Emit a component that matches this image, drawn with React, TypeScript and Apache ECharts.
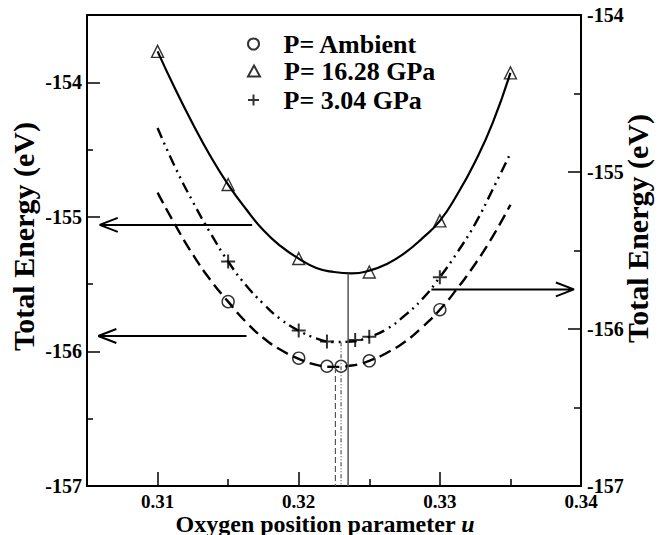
import React, { useEffect, useRef } from "react";
import * as echarts from "echarts";

const FONT = '"Liberation Serif", "Times New Roman", serif';

// axis ticks
const uTicks = [0.31, 0.32, 0.33, 0.34];
const uMinor = [0.315, 0.325, 0.335];
const leftTicks = [-157, -156, -155, -154];
const leftMinor = [-156.5, -155.5, -154.5];
const rightTicks = [-157, -156, -155, -154];
const rightMinor = [-156.5, -155.5, -154.5];

// data points
const uAmbient = [0.315, 0.32, 0.322, 0.323, 0.325, 0.33];
const eAmbient = [-155.63, -156.05, -156.11, -156.11, -156.07, -155.69];
const u1628 = [0.31, 0.315, 0.32, 0.325, 0.33, 0.335];
const e1628 = [-153.77, -154.76, -155.31, -155.41, -155.03, -153.93];
const u304 = [0.315, 0.32, 0.322, 0.324, 0.325, 0.33];
const e304 = [-155.57, -156.01, -156.08, -156.07, -156.05, -155.67];

// fitted curves
const uFit = [
  0.31, 0.31125, 0.3125, 0.31375, 0.315, 0.31625, 0.3175, 0.31875, 0.32, 0.32125, 0.3225,
  0.32375, 0.325, 0.32625, 0.3275, 0.32875, 0.33, 0.33125, 0.3325, 0.33375, 0.335,
];
const fit1628 = [
  -153.77, -154.05, -154.31, -154.55, -154.76, -154.94, -155.1, -155.22, -155.31, -155.38, -155.41,
  -155.42, -155.4, -155.35, -155.27, -155.16, -155.03, -154.83, -154.59, -154.3, -153.93,
];
const fitAmbient = [
  -154.82, -155.06, -155.28, -155.47, -155.63, -155.78, -155.9, -155.99, -156.055, -156.1, -156.115,
  -156.105, -156.07, -156.01, -155.93, -155.82, -155.69, -155.53, -155.35, -155.145, -154.91,
];
const fit304 = [
  -154.72, -154.97, -155.19, -155.39, -155.57, -155.72, -155.84, -155.94, -156.01, -156.06, -156.083,
  -156.08, -156.05, -156.0, -155.915, -155.81, -155.67, -155.51, -155.33, -155.11, -154.88,
];

// minima (vertical guide lines)
const minU = [0.3226, 0.3235, 0.323];
const minE = [-156.115, -155.42, -156.085];
const axisBottom = -157;

// arrows
const arrowTipU = [0.3059, 0.3058, 0.3395];
const arrowTailU = [0.3167, 0.3163, 0.3294];
const arrowE = [-155.06, -155.885, -155.748];
const arrowAxis = [0, 0, 1];
const headU = 0.00128;
const headE = [0.052, 0.052, 0.0445];

const zip = (a: number[], b: number[]) => a.map((x, i) => [x, b[i]]);

const tickFont = { fontFamily: FONT, fontWeight: "bold" as const, fontSize: 20, color: "#000" };
const nameFont = { fontFamily: FONT, fontWeight: "bold" as const, fontSize: 30, color: "#000" };

function buildOption() {
  const arrowSeries = arrowTipU.map((tip, i) => {
    const dir = arrowTailU[i] > tip ? 1 : -1;
    const e = arrowE[i];
    return {
      type: "line",
      yAxisIndex: arrowAxis[i],
      symbol: "none",
      silent: true,
      lineStyle: { color: "#000", width: 2 },
      data: [
        [arrowTailU[i], e],
        [tip, e],
        [tip + dir * headU, e + headE[i]],
        [tip, e],
        [tip + dir * headU, e - headE[i]],
      ],
    };
  });

  const vStyles = [
    { color: "#555", width: 1.2, type: [6, 3] },
    { color: "#555", width: 1.5, type: "solid" },
    { color: "#555", width: 1.2, type: [4, 2, 1, 2, 1, 2] },
  ];
  const vAxis = [0, 0, 1];
  const vSeries = minU.map((u, i) => ({
    type: "line",
    yAxisIndex: vAxis[i],
    symbol: "none",
    silent: true,
    lineStyle: vStyles[i],
    data: [
      [u, minE[i]],
      [u, axisBottom],
    ],
  }));

  const legendBase = {
    orient: "vertical",
    left: 242,
    padding: 5,
    itemWidth: 12,
    itemHeight: 11,
    selectedMode: false,
    textStyle: {
      fontFamily: FONT,
      fontWeight: "bold",
      fontSize: 26,
      color: "#000",
      padding: [0, 0, 0, 19],
    },
  };

  return {
    animation: false,
    backgroundColor: "#fff",
    grid: {
      left: 87,
      right: 86,
      top: 15,
      bottom: 49,
      outerBoundsMode: "none",
      containLabel: false,
      show: true,
      borderColor: "#000",
      borderWidth: 2,
      backgroundColor: "transparent",
    },
    legend: [
      { ...legendBase, top: 26, data: ["P= Ambient"] },
      { ...legendBase, top: 53, data: ["P= 16.28 GPa"] },
      { ...legendBase, top: 82, data: ["P= 3.04 GPa"] },
    ],
    xAxis: [
      {
        type: "value",
        min: 0.305,
        max: 0.34,
        position: "bottom",
        axisLine: { show: false },
        splitLine: { show: false },
        axisTick: { show: true, inside: true, length: 14, customValues: uTicks, lineStyle: { color: "#000", width: 1.5 } },
        axisLabel: {
          ...tickFont,
          fontSize: 19,
          lineHeight: 15,
          customValues: uTicks,
          margin: 8,
          formatter: (v: number) => v.toFixed(2),
        },
        name: "Oxygen position parameter {i|u}",
        nameLocation: "middle",
        nameGap: 26,
        nameMoveOverlap: false,
        nameTextStyle: {
          ...nameFont,
          fontSize: 24,
          lineHeight: 23,
          padding: [0, 18, 0, 0],
          rich: {
            i: { fontFamily: FONT, fontWeight: "bold", fontStyle: "italic", fontSize: 24, lineHeight: 23, color: "#000" },
          },
        },
      },
      {
        type: "value",
        min: 0.305,
        max: 0.34,
        position: "bottom",
        axisLine: { show: false },
        splitLine: { show: false },
        axisTick: { show: true, inside: true, length: 7, customValues: uMinor, lineStyle: { color: "#000", width: 1.5 } },
        axisLabel: { show: false },
      },
    ],
    yAxis: [
      {
        type: "value",
        min: -157,
        max: -153.5,
        position: "left",
        axisLine: { show: false },
        splitLine: { show: false },
        axisTick: { show: true, inside: true, length: 13, customValues: leftTicks, lineStyle: { color: "#000", width: 1.5 } },
        axisLabel: { ...tickFont, customValues: leftTicks, margin: 5 },
        name: "Total Energy (eV)",
        nameLocation: "middle",
        nameRotate: 90,
        nameGap: 49,
        nameMoveOverlap: false,
        nameTextStyle: { ...nameFont, padding: [0, 0, 0, 28] },
      },
      {
        type: "value",
        min: -157,
        max: -154,
        position: "right",
        axisLine: { show: false },
        splitLine: { show: false },
        axisTick: { show: true, inside: true, length: 13, customValues: rightTicks, lineStyle: { color: "#000", width: 1.5 } },
        axisLabel: { ...tickFont, customValues: rightTicks, margin: 6 },
        name: "Total Energy (eV)",
        nameLocation: "middle",
        nameRotate: 90,
        nameGap: 41,
        nameMoveOverlap: false,
        nameTextStyle: { ...nameFont, padding: [0, 0, 0, 44] },
      },
      {
        type: "value",
        min: -157,
        max: -153.5,
        position: "left",
        axisLine: { show: false },
        splitLine: { show: false },
        axisTick: { show: true, inside: true, length: 6, customValues: leftMinor, lineStyle: { color: "#000", width: 1.5 } },
        axisLabel: { show: false },
      },
      {
        type: "value",
        min: -157,
        max: -154,
        position: "right",
        axisLine: { show: false },
        splitLine: { show: false },
        axisTick: { show: true, inside: true, length: 7, customValues: rightMinor, lineStyle: { color: "#000", width: 1.5 } },
        axisLabel: { show: false },
      },
    ],
    series: [
      {
        type: "line",
        yAxisIndex: 0,
        smooth: true,
        symbol: "none",
        silent: true,
        lineStyle: { color: "#000", width: 2.2, type: "solid" },
        data: zip(uFit, fit1628),
      },
      {
        type: "line",
        yAxisIndex: 0,
        smooth: true,
        symbol: "none",
        silent: true,
        lineStyle: { color: "#000", width: 2.4, type: [12, 6] },
        data: zip(uFit, fitAmbient),
      },
      {
        type: "line",
        yAxisIndex: 1,
        smooth: true,
        symbol: "none",
        silent: true,
        lineStyle: { color: "#000", width: 2.4, type: [11, 5, 2, 5, 2, 5] },
        data: zip(uFit, fit304),
      },
      ...vSeries,
      ...arrowSeries,
      {
        name: "P= Ambient",
        type: "scatter",
        yAxisIndex: 0,
        symbol: "circle",
        symbolSize: 12,
        itemStyle: { color: "transparent", borderColor: "#000", borderWidth: 1.4 },
        data: zip(uAmbient, eAmbient),
      },
      {
        name: "P= 16.28 GPa",
        type: "scatter",
        yAxisIndex: 0,
        symbol: "triangle",
        symbolSize: 12,
        itemStyle: { color: "transparent", borderColor: "#000", borderWidth: 1.4 },
        data: zip(u1628, e1628),
      },
      {
        name: "P= 3.04 GPa",
        type: "scatter",
        yAxisIndex: 1,
        symbol: "path://M6,0L6,12M0,6L12,6",
        symbolSize: 14,
        itemStyle: { color: "transparent", borderColor: "#000", borderWidth: 2 },
        data: zip(u304, e304),
      },
    ],
  };
}

export default function App() {
  const ref = useRef<HTMLDivElement>(null);
  useEffect(() => {
    if (!ref.current) return;
    const chart = echarts.init(ref.current, null, { renderer: "svg" });
    chart.setOption(buildOption() as any);
    return () => chart.dispose();
  }, []);
  return <div ref={ref} style={{ width: 667, height: 535, position: "absolute", left: 0, top: 0 }} />;
}
